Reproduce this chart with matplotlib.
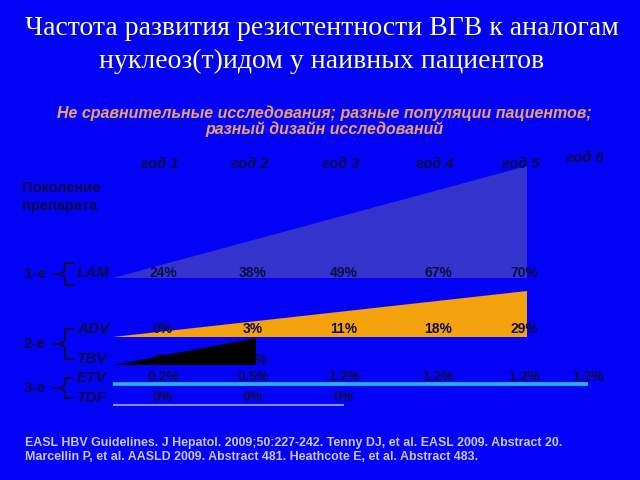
import matplotlib.pyplot as plt
from matplotlib.patches import Polygon

plt.rcParams['font.family'] = ['Liberation Sans', 'DejaVu Sans']

# data
years = ['год 1', 'год 2', 'год 3', 'год 4', 'год 5', 'год 6']
drugs = ['LAM', 'ADV', 'TBV', 'ETV', 'TDF']
lam = [24, 38, 49, 67, 70]
adv = [0, 3, 11, 18, 29]
tbv = [4, 17]
etv = [0.2, 0.5, 1.2, 1.2, 1.2, 1.2]
tdf = [0, 0, 0]
generations = ['1-е', '2-е', '3-е']

# layout (pixel coords of the 640x480 slide)
bg = '#0202F6'
dark = '#0C0C48'
col_x = [163, 253, 344, 438, 524, 588]
x0 = 113
px_per_pct = 1.6

fig = plt.figure(figsize=(6.4, 4.8), dpi=100)
fig.patch.set_facecolor(bg)
ax = fig.add_axes([0, 0, 1, 1])
ax.set_xlim(0, 640)
ax.set_ylim(480, 0)
ax.axis('off')
ax.set_facecolor(bg)


def fmt(v):
    return ('%g%%' % v)


def wedge(vals, base, color, label_y, label_z=5):
    xend = col_x[len(vals) - 1] + 3
    top = base - vals[-1] * px_per_pct
    ax.add_patch(Polygon([(x0, base), (xend, base), (xend, top)], closed=True,
                         facecolor=color, edgecolor='none', zorder=3))
    for i, v in enumerate(vals):
        ax.text(col_x[i], label_y, fmt(v), ha='center', va='center', fontsize=10,
                fontweight='bold', color=dark, zorder=label_z)


def hline(vals, y, color, lw, label_y):
    ax.plot([x0, col_x[len(vals) - 1]], [y, y], color=color, lw=lw,
            solid_capstyle='butt', zorder=3)
    for i, v in enumerate(vals):
        ax.text(col_x[i], label_y, fmt(v), ha='center', va='center', fontsize=10,
                fontweight='bold', color=dark, zorder=2)


wedge(lam, 278, '#3434CC', 273)
wedge(adv, 337, '#F5A30C', 329)
wedge(tbv, 365, 'black', 360, label_z=2)
hline(etv, 384, '#22B8E8', 2.6, 377)
hline(tdf, 405, '#8A8AFF', 1.5, 397)

# year headers
for i, yr in enumerate(years):
    yy = 158 if i == 5 else 164
    ax.text(col_x[i] - 3, yy, yr, ha='center', va='center', fontsize=10.5,
            fontweight='bold', fontstyle='italic', color=dark)

ax.text(22, 197, 'Поколение\nпрепарата', ha='left', va='center', fontsize=10.5,
        fontweight='bold', color=dark, linespacing=1.45)

# drug names and generation braces
drug_y = [273, 329, 359, 378, 398]
for name, yy in zip(drugs, drug_y):
    ax.text(77, yy, name, ha='left', va='center', fontsize=11,
            fontweight='bold', fontstyle='italic', color=dark)

groups = [(0, 0), (1, 2), (3, 4)]
for gname, (a, b) in zip(generations, groups):
    top = drug_y[a] - 10 if a == b else drug_y[a]
    bot = drug_y[b] + 12 if a == b else drug_y[b]
    mid = (top + bot) / 2.
    ax.plot([73, 65, 65, 60, 65, 65, 73],
            [top, top, mid - 3, mid, mid + 3, bot, bot],
            color=dark, lw=1.5, zorder=4)
    ax.plot([53, 60], [mid, mid], color=dark, lw=1.5, zorder=4)
    ax.text(24, mid, gname, ha='left', va='center', fontsize=11,
            fontweight='bold', color=dark)

# titles
ax.text(322, 45, 'Частота развития резистентности ВГВ к аналогам\nнуклеоз(т)идом у наивных пациентов',
        ha='center', va='center', fontsize=20, family='Liberation Serif',
        color='#FFFFA8', linespacing=1.4)
ax.text(324, 121, 'Не сравнительные исследования; разные популяции пациентов;\nразный дизайн исследований',
        ha='center', va='center', fontsize=11.5, fontweight='bold', fontstyle='italic',
        color='#EBA070', linespacing=1.05)
ax.text(25, 450, 'EASL HBV Guidelines. J Hepatol. 2009;50:227-242. Tenny DJ, et al. EASL 2009. Abstract 20.\n'
        'Marcellin P, et al. AASLD 2009. Abstract 481. Heathcote E, et al. Abstract 483.',
        ha='left', va='center', fontsize=8.9, fontweight='bold',
        color='#C8C8F0', linespacing=1.3)

fig.savefig('out.png', dpi=100, facecolor=bg)
